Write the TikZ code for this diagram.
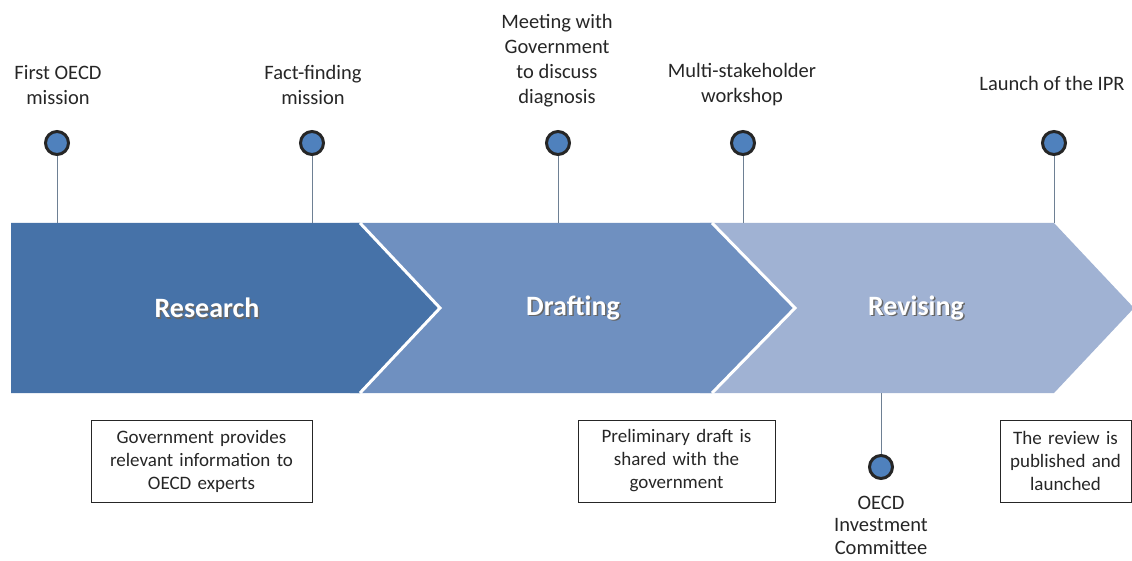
\documentclass[tikz,border=0pt]{standalone}
\usepackage{fontspec}
\setmainfont{Carlito}
\usetikzlibrary{positioning}

\definecolor{research}{RGB}{70,114,168}
\definecolor{drafting}{RGB}{111,144,192}
\definecolor{revising}{RGB}{160,178,211}
\definecolor{dotblue}{RGB}{79,129,189}
\definecolor{stemgray}{RGB}{110,128,148}

\begin{document}
\begin{tikzpicture} [x=1pt, y=-1pt,
    sep/.style = {draw=white, line width=3pt},
    phasetext/.style = {font=\bfseries\fontsize{28}{32}\selectfont, text=white},
    milestone/.style = {circle, draw=black!85, line width=3pt, fill=dotblue,
        minimum size=23pt, inner sep=0pt},
    stemline/.style = {draw=stemgray, line width=0.9pt},
    event/.style = {align=center, font=\fontsize{20.5}{25}\selectfont, text=black!85},
    note/.style = {draw=black!85, line width=0.9pt, align=center, inner sep=0pt,
        minimum height=82pt, font=\fontsize{19}{23}\selectfont, text=black!85}]

        \useasboundingbox (0,0) rectangle (1132,561);
        \coordinate (bandtop) at (0,223);
        \coordinate (bandbot) at (0,393);

        % the three phases
        \fill[revising] (700,223) -- (1054,223) -- (1134,308) -- (1054,393) -- (700,393) -- cycle;
        \fill[drafting] (350,223) -- (712,223) -- (795,308) -- (712,393) -- (350,393) -- cycle;
        \fill[research] (11,223) -- (360,223) -- (440,308) -- (360,393) -- (11,393) -- cycle;
        \draw[sep] (712,223) -- (795,308) -- (712,393);
        \draw[sep] (360,223) -- (440,308) -- (360,393);

        \foreach \name/\x in {Research/207, Drafting/573, Revising/916} {
            \node[phasetext, text=black!60] at (\x+1.5,309.5) {\name};
            \node[phasetext] (\name) at (\x,308) {\name};
        }

        % milestones
        \node (m1) [milestone] at (57,143) {};
        \node (m2) [milestone] at (312,143) {};
        \node (m3) [milestone] at (558,143) {};
        \node (m4) [milestone] at (743,143) {};
        \node (m5) [milestone] at (1054,143) {};
        \node (m6) [milestone] at (881,467) {};

        \node (e1) [event] at (58,85) {First OECD\\mission};
        \node (e2) [event] at (313,85) {Fact-finding\\mission};
        \node (e3) [event] at (557,61) {Meeting with\\Government\\to discuss\\diagnosis};
        \node (e4) [event] at (742,85) {Multi-stakeholder\\workshop};
        \node (e5) [event] at (1052,83) {Launch of the IPR};
        \node (e6) [event, font=\fontsize{20.5}{22.5}\selectfont] at (881,525) {OECD\\Investment\\Committee};

        \path [stemline]
        (m1) edge (m1 |- bandtop)
        (m2) edge (m2 |- bandtop)
        (m3) edge (m3 |- bandtop)
        (m4) edge (m4 |- bandtop)
        (m5) edge (m5 |- bandtop)
        (m6) edge (m6 |- bandbot)
        ;

        % what happens in each phase
        \node (n1) [note, text width=221pt] at (201.5,461) {Government provides\\relevant information to\\OECD experts};
        \node (n2) [note, text width=197pt] at (676.5,461) {Preliminary draft is\\shared with the\\government};
        \node (n3) [note, text width=131pt] at (1065.5,461) {The review is\\published and\\launched};
    \end{tikzpicture}
\end{document}
